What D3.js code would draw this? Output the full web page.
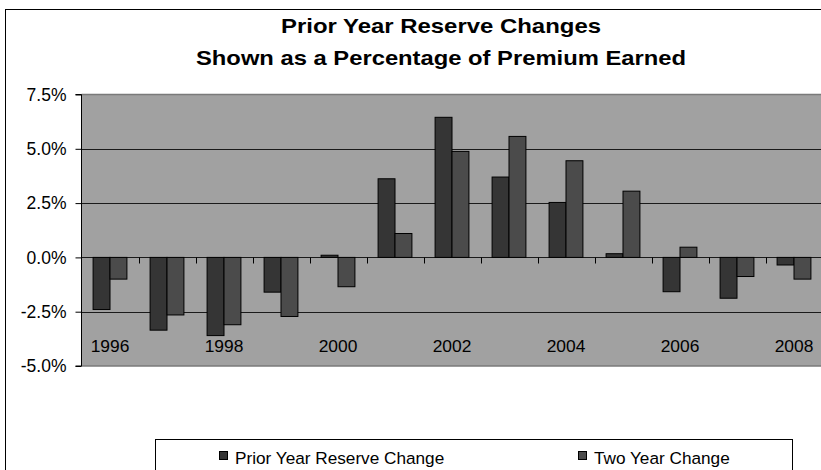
<!DOCTYPE html>
<html>
<head>
<meta charset="utf-8">
<script src="https://cdn.jsdelivr.net/npm/d3@7/dist/d3.min.js"></script>
<style>
  html, body { margin: 0; padding: 0; background: #fff; }
  svg { display: block; font-family: "Liberation Sans", Arial, sans-serif; }
</style>
</head>
<body>
<svg id="chart" width="821" height="470"></svg>
<script>
const years = ["1996","1997","1998","1999","2000","2001","2002","2003","2004","2005","2006","2007","2008"];
const priorYear = [-2.4, -3.35, -3.6, -1.6, 0.1, 3.62, 6.45, 3.7, 2.53, 0.17, -1.58, -1.88, -0.35];
const twoYear = [-1.0, -2.65, -3.1, -2.72, -1.35, 1.1, 4.88, 5.57, 4.45, 3.05, 0.47, -0.88, -1.0];
const seriesNames = ["Prior Year Reserve Change", "Two Year Change"];
const seriesColors = ["#353535", "#4b4b4b"];
const yTicks = [-5, -2.5, 0, 2.5, 5, 7.5];
const xLabelYears = ["1996","1998","2000","2002","2004","2006","2008"];
const titleLines = ["Prior Year Reserve Changes", "Shown as a Percentage of Premium Earned"];

const svg = d3.select("#chart");
const plot = { left: 81.5, right: 822.5, top: 94.5, bottom: 366 };

// outer border
svg.append("rect").attr("x", 5.5).attr("y", 9.5).attr("width", 900).attr("height", 480)
  .attr("fill", "#fff").attr("stroke", "#000").attr("stroke-width", 1);

// title (wide, heavy face as in the reference)
const titleWidths = [320, 490];
svg.append("g").selectAll("text").data(titleLines).join("text")
  .attr("x", 441).attr("y", (d, i) => 33 + i * 31.5)
  .attr("text-anchor", "middle").attr("font-weight", "bold").attr("font-size", "20.5px")
  .attr("textLength", (d, i) => titleWidths[i]).attr("lengthAdjust", "spacingAndGlyphs")
  .attr("fill", "#000").text(d => d);

const y = d3.scaleLinear().domain([-5, 7.5]).range([plot.bottom, plot.top]);
const x = d3.scaleBand().domain(years).range([plot.left, plot.right]).padding(0);
const step = x.step();
const barW = step / (2 + 1.37);
const x1 = d3.scaleBand().domain(seriesNames).range([0, 2 * barW]).padding(0);

// plot background
svg.append("rect").attr("x", plot.left).attr("y", plot.top)
  .attr("width", plot.right - plot.left).attr("height", plot.bottom - plot.top)
  .attr("fill", "#a1a1a1");

// gridlines
svg.append("g").selectAll("line").data(yTicks.filter(t => t > -5 && t < 7.5)).join("line")
  .attr("x1", plot.left).attr("x2", plot.right)
  .attr("y1", d => Math.round(y(d)) + 0.5).attr("y2", d => Math.round(y(d)) + 0.5)
  .attr("stroke", "#1a1a1a").attr("stroke-width", 1);

// plot top/bottom border
svg.append("line").attr("x1", plot.left).attr("x2", plot.right).attr("y1", plot.top).attr("y2", plot.top)
  .attr("stroke", "#7a7a7a").attr("stroke-width", 1.5);
svg.append("line").attr("x1", plot.left).attr("x2", plot.right).attr("y1", plot.bottom).attr("y2", plot.bottom)
  .attr("stroke", "#7a7a7a").attr("stroke-width", 1.5);

// category ticks at zero line
const y0 = Math.round(y(0)) + 0.5;
svg.append("g").selectAll("line").data(years.slice(1)).join("line")
  .attr("x1", d => Math.round(x(d)) + 0.5).attr("x2", d => Math.round(x(d)) + 0.5)
  .attr("y1", y0).attr("y2", y0 + 6)
  .attr("stroke", "#000").attr("stroke-width", 1);

// bars
const groups = svg.append("g").selectAll("g").data(years).join("g")
  .attr("transform", d => `translate(${x(d) + step / 2 - barW},0)`);
groups.selectAll("rect").data((d, i) => [priorYear[i], twoYear[i]].map((v, j) => ({ v, s: seriesNames[j], j })))
  .join("rect")
  .attr("x", d => x1(d.s))
  .attr("y", d => y(Math.max(0, d.v)))
  .attr("width", barW)
  .attr("height", d => Math.abs(y(d.v) - y(0)))
  .attr("fill", d => seriesColors[d.j])
  .attr("stroke", "#000").attr("stroke-width", 1);

// y axis
const yAxis = d3.axisLeft(y).tickValues(yTicks).tickSize(6).tickPadding(9)
  .tickFormat(d => d3.format(".1f")(d).replace("−", "-") + "%");
const ya = svg.append("g").attr("transform", `translate(${plot.left},0)`).call(yAxis);
ya.select(".domain").attr("stroke", "#000").attr("d", `M-6,${plot.top}H0V${plot.bottom}H-6`);
ya.selectAll("text").attr("font-size", "17.5px").attr("fill", "#000")
  .attr("font-family", "Liberation Sans, Arial, sans-serif");
ya.selectAll("line").attr("stroke", "#000");

// x labels (every other year, inside plot at bottom)
svg.append("g").selectAll("text").data(xLabelYears).join("text")
  .attr("x", d => x(d) + step / 2).attr("y", 351.5)
  .attr("text-anchor", "middle").attr("font-size", "17.4px").attr("fill", "#000")
  .text(d => d);

// legend
svg.append("rect").attr("x", 155.5).attr("y", 439.5).attr("width", 637).attr("height", 60)
  .attr("fill", "#fff").attr("stroke", "#000").attr("stroke-width", 1);
const legX = [219.5, 578.5];
const leg = svg.append("g").selectAll("g").data(seriesNames).join("g")
  .attr("transform", (d, i) => `translate(${legX[i]},451.5)`);
leg.append("rect").attr("width", 8).attr("height", 8)
  .attr("fill", (d, i) => seriesColors[i]).attr("stroke", "#000").attr("stroke-width", 1);
leg.append("text").attr("x", 15.5).attr("y", 12.5).attr("font-size", "17.2px").attr("fill", "#000")
  .text(d => d);
</script>
</body>
</html>
